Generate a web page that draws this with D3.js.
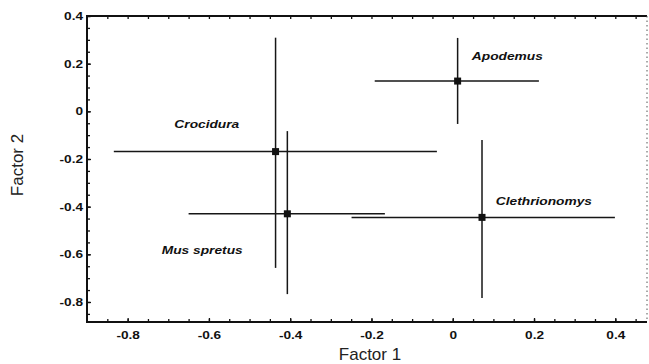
<!DOCTYPE html>
<html>
<head>
<meta charset="utf-8">
<script src="https://cdn.jsdelivr.net/npm/d3@7"></script>
<style>
  body { margin: 0; background: #fff; }
  svg { display: block; font-family: Arial, "Liberation Sans", sans-serif; }
</style>
</head>
<body>
<div id="chart"></div>
<script>
// Group means on the two discriminant factors, with their spread
const species = ["Apodemus", "Crocidura", "Mus spretus", "Clethrionomys"];
const meanX = [0.012, -0.436, -0.407, 0.072];
const meanY = [0.127, -0.169, -0.430, -0.445];
const xLow = [-0.192, -0.834, -0.650, -0.249];
const xHigh = [0.212, -0.039, -0.167, 0.399];
const yLow = [-0.053, -0.657, -0.767, -0.783];
const yHigh = [0.308, 0.309, -0.083, -0.120];
// label anchors (data units) for each species name
const labelX = [0.047, -0.685, -0.716, 0.106];
const labelY = [0.215, -0.07, -0.60, -0.395];

const xTicks = [-0.8, -0.6, -0.4, -0.2, 0, 0.2, 0.4];
const yTicks = [0.4, 0.2, 0, -0.2, -0.4, -0.6, -0.8];
const xTitle = "Factor 1";
const yTitle = "Factor 2";

const width = 649, height = 364;
const margin = { top: 16, right: 2, bottom: 42, left: 87 };
const innerW = width - margin.left - margin.right;
const innerH = height - margin.top - margin.bottom;

const x = d3.scaleLinear().domain([-0.9, 0.478]).range([0, innerW]);
const y = d3.scaleLinear().domain([-0.884, 0.4]).range([innerH, 0]);

const fmt = d => d === 0 ? "0" : d.toFixed(1);

const svg = d3.select("#chart").append("svg")
  .attr("width", width)
  .attr("height", height);

const g = svg.append("g")
  .attr("transform", `translate(${margin.left},${margin.top})`);

// minor ticks every 0.05 on every side but the right one
const xMinor = d3.range(-0.85, 0.476, 0.05);
const yMinor = d3.range(-0.85, 0.401, 0.05);

g.append("g").attr("transform", `translate(0,${innerH})`)
  .call(d3.axisBottom(x).tickValues(xMinor).tickSize(-3).tickFormat(""))
  .call(a => a.select(".domain").remove());
g.append("g")
  .call(d3.axisTop(x).tickValues(xMinor).tickSize(-3).tickFormat(""))
  .call(a => a.select(".domain").remove());
g.append("g")
  .call(d3.axisLeft(y).tickValues(yMinor).tickSize(-3).tickFormat(""))
  .call(a => a.select(".domain").remove());

// labelled axes
const xAxis = g.append("g").attr("transform", `translate(0,${innerH})`)
  .call(d3.axisBottom(x).tickValues(xTicks).tickSize(-4).tickPadding(10).tickFormat(fmt));
const yAxis = g.append("g")
  .call(d3.axisLeft(y).tickValues(yTicks).tickSize(-4).tickPadding(4).tickFormat(fmt));

[xAxis, yAxis].forEach(a => {
  a.selectAll(".domain").remove();
  a.selectAll("text")
    .attr("fill", "#111")
    .style("font-size", "10.5px")
    .style("font-weight", "bold");
});
xAxis.selectAll("text").attr("transform", "scale(1.3,1)");
yAxis.selectAll("text").attr("x", -4 / 1.3).attr("transform", "scale(1.3,1)");

g.selectAll(".tick line").attr("stroke", "#111").attr("stroke-width", 1.3);

// frame: solid left, top, bottom; faint dotted right
g.append("path")
  .attr("d", `M${innerW},0H0V${innerH}H${innerW}`)
  .attr("fill", "none")
  .attr("stroke", "#111")
  .attr("stroke-width", 2);
g.append("line")
  .attr("x1", innerW).attr("x2", innerW)
  .attr("y1", 0).attr("y2", innerH)
  .attr("stroke", "#555")
  .attr("stroke-width", 1)
  .attr("stroke-dasharray", "1.5,3");

// error crosses
const idx = d3.range(species.length);
const bars = g.append("g").attr("stroke", "#161616").attr("stroke-width", 1.5);

bars.selectAll(".hbar").data(idx).join("line")
  .attr("class", "hbar")
  .attr("x1", i => x(xLow[i])).attr("x2", i => x(xHigh[i]))
  .attr("y1", i => y(meanY[i])).attr("y2", i => y(meanY[i]));

bars.selectAll(".vbar").data(idx).join("line")
  .attr("class", "vbar")
  .attr("x1", i => x(meanX[i])).attr("x2", i => x(meanX[i]))
  .attr("y1", i => y(yLow[i])).attr("y2", i => y(yHigh[i]));

g.selectAll(".mean").data(idx).join("rect")
  .attr("class", "mean")
  .attr("x", i => x(meanX[i]) - 3.5)
  .attr("y", i => y(meanY[i]) - 3.5)
  .attr("width", 7).attr("height", 7)
  .attr("fill", "#111");

// species names
g.selectAll(".name").data(idx).join("text")
  .attr("class", "name")
  .attr("transform", i => `translate(${x(labelX[i])},${y(labelY[i])}) scale(1.25,1)`)
  .attr("fill", "#111")
  .style("font-size", "11px")
  .style("font-weight", "bold")
  .style("font-style", "italic")
  .text(i => species[i]);

// axis titles
svg.append("text")
  .attr("x", 370).attr("y", 360)
  .attr("text-anchor", "middle")
  .attr("fill", "#222")
  .style("font-size", "17px")
  .text(xTitle);

svg.append("text")
  .attr("transform", "translate(23,165) rotate(-90)")
  .attr("text-anchor", "middle")
  .attr("fill", "#222")
  .style("font-size", "17px")
  .text(yTitle);
</script>
</body>
</html>
